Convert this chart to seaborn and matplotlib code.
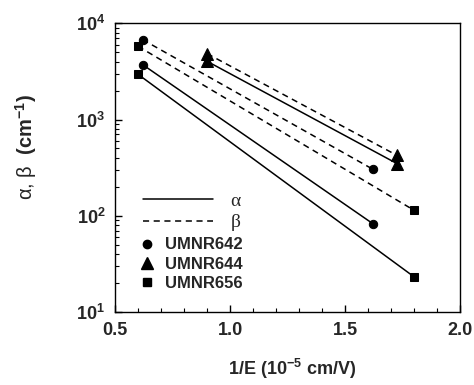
import numpy as np
import pandas as pd
import matplotlib
matplotlib.use('Agg')
import matplotlib.pyplot as plt
from matplotlib.lines import Line2D
from matplotlib.ticker import MultipleLocator, LogLocator, NullFormatter
import seaborn as sns

# data: (1/E, value) at the two ends of each fitted line
samples = ['UMNR642', 'UMNR644', 'UMNR656']
markers = {'UMNR642': 'o', 'UMNR644': '^', 'UMNR656': 's'}
msizes = {'UMNR642': 6, 'UMNR644': 8, 'UMNR656': 6}

x_642 = [0.62, 1.62]
alpha_642 = [3720, 83]
beta_642 = [6760, 305]

x_644 = [0.90, 1.725]
alpha_644 = [4030, 349]
beta_644 = [4840, 425]

x_656 = [0.60, 1.80]
alpha_656 = [2950, 23.2]
beta_656 = [5770, 114]

rows = []
for s, xs, a, b in [('UMNR642', x_642, alpha_642, beta_642),
                    ('UMNR644', x_644, alpha_644, beta_644),
                    ('UMNR656', x_656, alpha_656, beta_656)]:
    for xi, ai, bi in zip(xs, a, b):
        rows.append({'x': xi, 'y': ai, 'sample': s, 'param': 'alpha'})
        rows.append({'x': xi, 'y': bi, 'sample': s, 'param': 'beta'})
df = pd.DataFrame(rows)

sns.set_style('ticks')
plt.rcParams['font.family'] = ['Liberation Sans', 'DejaVu Sans']
plt.rcParams['mathtext.fontset'] = 'custom'
plt.rcParams['mathtext.rm'] = 'Liberation Sans'
plt.rcParams['mathtext.bf'] = 'Liberation Sans:bold'
plt.rcParams['mathtext.it'] = 'Liberation Sans:italic'

fig = plt.figure(figsize=(4.74, 3.85), dpi=100)
ax = fig.add_axes([0.2426, 0.1896, 0.728, 0.750])

styles = {'alpha': '-', 'beta': (0, (4, 3))}
for s in samples:
    for p in ['alpha', 'beta']:
        d = df[(df['sample'] == s) & (df['param'] == p)]
        sns.lineplot(data=d, x='x', y='y', ax=ax, color='black', linewidth=1.1,
                     linestyle=styles[p], marker=markers[s], markersize=msizes[s],
                     markeredgecolor='black', markerfacecolor='black', legend=False)

ax.set_yscale('log')
ax.set_xlim(0.5, 2.0)
ax.set_ylim(10, 1e4)
ax.set_xticks([0.5, 1.0, 1.5, 2.0])
ax.set_xticklabels(['0.5', '1.0', '1.5', '2.0'], fontweight='bold', fontsize=13)
ax.xaxis.set_minor_locator(MultipleLocator(0.1))
ax.set_yticks([10, 100, 1000, 10000])
ax.set_yticklabels([r'$\mathbf{10^{1}}$', r'$\mathbf{10^{2}}$', r'$\mathbf{10^{3}}$',
                    r'$\mathbf{10^{4}}$'], fontsize=13)
ax.yaxis.set_minor_locator(LogLocator(base=10, subs=np.arange(2, 10)))
ax.yaxis.set_minor_formatter(NullFormatter())
ax.tick_params(which='both', direction='in', top=False, right=False, color='black')
ax.tick_params(which='major', length=5, width=1)
ax.tick_params(which='minor', length=3, width=0.8)
ax.tick_params(axis='x', which='major', pad=7)
ax.tick_params(axis='y', which='major', pad=7)
for sp in ax.spines.values():
    sp.set_color('black')
    sp.set_linewidth(1.0)

ax.set_xlabel(r'$\mathbf{1/E\ (10^{-5}\ cm/V)}$', fontsize=13)
ax.xaxis.set_label_coords(0.514, -0.155)
ax.set_ylabel('α, β  ' + r'$\mathbf{(cm^{-1})}$', fontsize=14.5)
ax.yaxis.set_label_coords(-0.22, 0.57)

line_handles = [Line2D([], [], color='black', linewidth=1.1, linestyle='-'),
                Line2D([], [], color='black', linewidth=1.1, linestyle=(0, (4, 3)))]
leg1 = ax.legend(line_handles, ['α', 'β'], loc='upper left',
                 bbox_to_anchor=(0.03, 0.475), frameon=False, handlelength=3.6,
                 handletextpad=0.9, labelspacing=0.2,
                 prop={'family': 'Liberation Serif', 'size': 14})
ax.add_artist(leg1)
mark_handles = [Line2D([], [], color='black', linestyle='none', marker=markers[s],
                       markersize=msizes[s]) for s in samples]
ax.legend(mark_handles, samples, loc='upper left', bbox_to_anchor=(0.03, 0.31),
          frameon=False, handlelength=0.8, handletextpad=0.7, labelspacing=0.25,
          prop={'weight': 'bold', 'size': 12})

fig.savefig('out.png', dpi=100)
